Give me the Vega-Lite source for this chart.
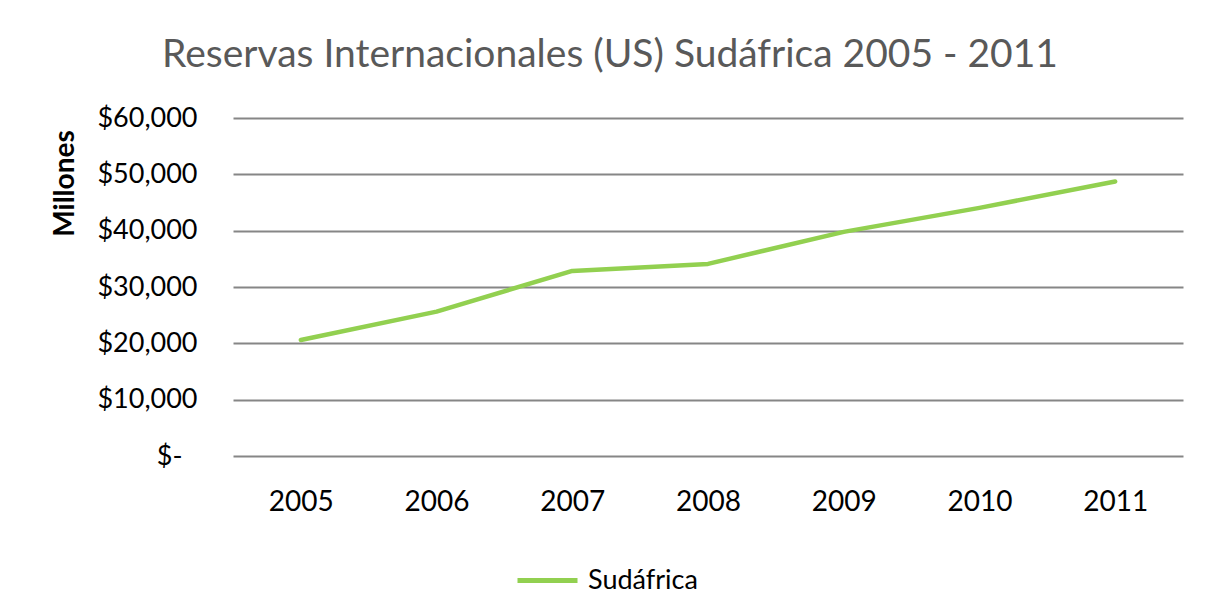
{
  "$schema": "https://vega.github.io/schema/vega-lite/v6.json",
  "width": 950,
  "height": 338,
  "autosize": {"type": "none"},
  "padding": {"left": 233, "top": 118, "right": 34, "bottom": 148},
  "background": "white",
  "title": {
    "text": "Reservas Internacionales (US) Sudáfrica 2005 - 2011",
    "font": "Lato",
    "fontSize": 39,
    "fontWeight": "normal",
    "color": "#595959",
    "anchor": "middle",
    "frame": "group",
    "baseline": "alphabetic",
    "dx": -98,
    "dy": 50,
    "offset": 48
  },
  "data": {
    "values": [
      {"year": "2005", "serie": "Sudáfrica", "value": 20600},
      {"year": "2006", "serie": "Sudáfrica", "value": 25630},
      {"year": "2007", "serie": "Sudáfrica", "value": 32860},
      {"year": "2008", "serie": "Sudáfrica", "value": 34100},
      {"year": "2009", "serie": "Sudáfrica", "value": 39790},
      {"year": "2010", "serie": "Sudáfrica", "value": 44050},
      {"year": "2011", "serie": "Sudáfrica", "value": 48720}
    ]
  },
  "mark": {"type": "line", "strokeWidth": 4.5, "strokeCap": "round", "strokeJoin": "round"},
  "encoding": {
    "x": {
      "field": "year",
      "type": "ordinal",
      "scale": {"type": "point", "padding": 0.5},
      "axis": {
        "title": null,
        "labelAngle": 0,
        "domain": false,
        "ticks": false,
        "grid": false,
        "labelFont": "Lato",
        "labelFontSize": 28,
        "labelColor": "#000000",
        "labelPadding": 32
      }
    },
    "y": {
      "field": "value",
      "type": "quantitative",
      "scale": {"domain": [0, 60000], "nice": false},
      "axis": {
        "values": [0, 10000, 20000, 30000, 40000, 50000, 60000],
        "labelExpr": "datum.value == 0 ? '$-' : '$' + format(datum.value, ',')",
        "title": "Millones",
        "titleFont": "Lato",
        "titleFontSize": 28,
        "titleFontWeight": "bold",
        "titleColor": "#000000",
        "titleAngle": 270,
        "titleAlign": "center",
        "titleBaseline": "middle",
        "titleX": -168,
        "titleY": 65,
        "domain": false,
        "ticks": false,
        "grid": true,
        "gridColor": "#868686",
        "gridWidth": 2,
        "labelFont": "Lato",
        "labelFontSize": 27,
        "labelColor": "#000000",
        "labelPadding": {"condition": {"test": "datum.value == 0", "value": 51}, "value": 36}
      }
    },
    "color": {
      "field": "serie",
      "type": "nominal",
      "scale": {"range": ["#92D050"]},
      "legend": {
        "title": null,
        "orient": "none",
        "legendX": 282,
        "legendY": 430,
        "symbolType": "stroke",
        "symbolSize": 3600,
        "symbolStrokeWidth": 5,
        "labelFont": "Lato",
        "labelFontSize": 27,
        "labelColor": "#000000",
        "labelOffset": 8
      }
    }
  },
  "config": {"view": {"stroke": null}}
}
